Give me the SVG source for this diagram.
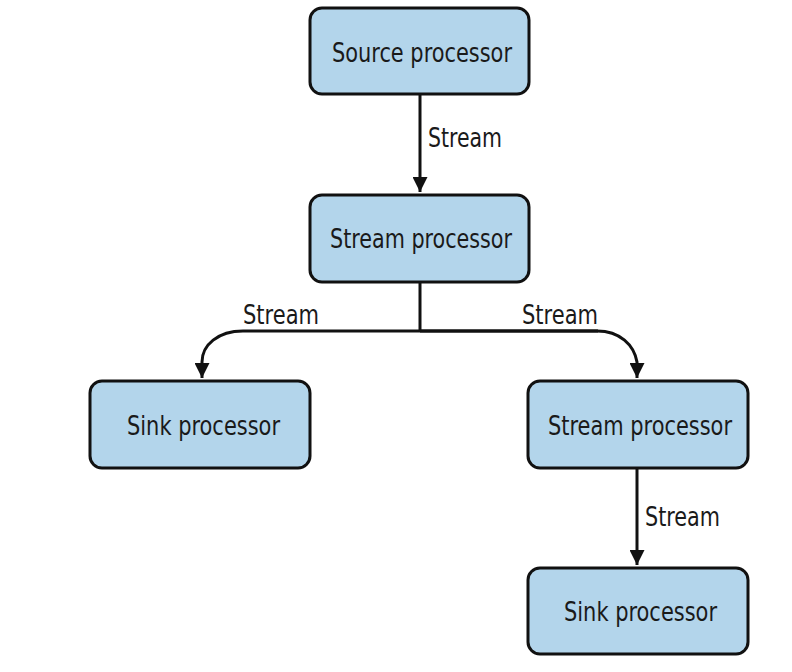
<svg xmlns="http://www.w3.org/2000/svg" width="792" height="672" viewBox="0 0 792 672">
  <style>
    .box { fill: #b3d5eb; stroke: #111; stroke-width: 3; }
    .lbl { font-family: "Liberation Sans Narrow", "DejaVu Sans Condensed", "Liberation Sans", sans-serif; font-size: 26px; fill: #1a1a1a; }
    .edge { fill: none; stroke: #111; stroke-width: 3; }
  </style>
  <defs>
    <marker id="arrow" viewBox="0 0 10 10" refX="10" refY="5" markerWidth="5" markerHeight="5" markerUnits="strokeWidth" orient="auto">
      <path d="M0,0 L10,5 L0,10 Z" fill="#111"/>
    </marker>
  </defs>
  <rect width="792" height="672" fill="#fff"/>

  <!-- edges and their labels -->
  <g id="connectors">
    <path class="edge" d="M420,94 V192" marker-end="url(#arrow)"/>
    <path class="edge" d="M420,282 V331"/>
    <path class="edge" d="M598,331 H243 C218,331 202,345 202,362 V378" marker-end="url(#arrow)"/>
    <path class="edge" d="M420,331 H597 C620,331 634,345 637,362 V378" marker-end="url(#arrow)"/>
    <path class="edge" d="M637,468 V565" marker-end="url(#arrow)"/>
    <text class="lbl" x="428" y="147" textLength="74" lengthAdjust="spacingAndGlyphs">Stream</text>
    <text class="lbl" x="243" y="324" textLength="76" lengthAdjust="spacingAndGlyphs">Stream</text>
    <text class="lbl" x="522" y="324" textLength="76" lengthAdjust="spacingAndGlyphs">Stream</text>
    <text class="lbl" x="645" y="526" textLength="75" lengthAdjust="spacingAndGlyphs">Stream</text>
  </g>

  <g id="source-processor">
    <rect class="box" x="310" y="8" width="219" height="86" rx="12"/>
    <text class="lbl" x="332" y="62" textLength="180" lengthAdjust="spacingAndGlyphs">Source processor</text>
  </g>
  <g id="stream-processor-1">
    <rect class="box" x="310" y="195" width="219" height="87" rx="12"/>
    <text class="lbl" x="330" y="248" textLength="182" lengthAdjust="spacingAndGlyphs">Stream processor</text>
  </g>
  <g id="sink-processor-1">
    <rect class="box" x="90" y="381" width="220" height="87" rx="12"/>
    <text class="lbl" x="127" y="435" textLength="153" lengthAdjust="spacingAndGlyphs">Sink processor</text>
  </g>
  <g id="stream-processor-2">
    <rect class="box" x="528" y="381" width="220" height="87" rx="12"/>
    <text class="lbl" x="548" y="435" textLength="184" lengthAdjust="spacingAndGlyphs">Stream processor</text>
  </g>
  <g id="sink-processor-2">
    <rect class="box" x="528" y="568" width="220" height="86" rx="12"/>
    <text class="lbl" x="564" y="621" textLength="153" lengthAdjust="spacingAndGlyphs">Sink processor</text>
  </g>
</svg>
